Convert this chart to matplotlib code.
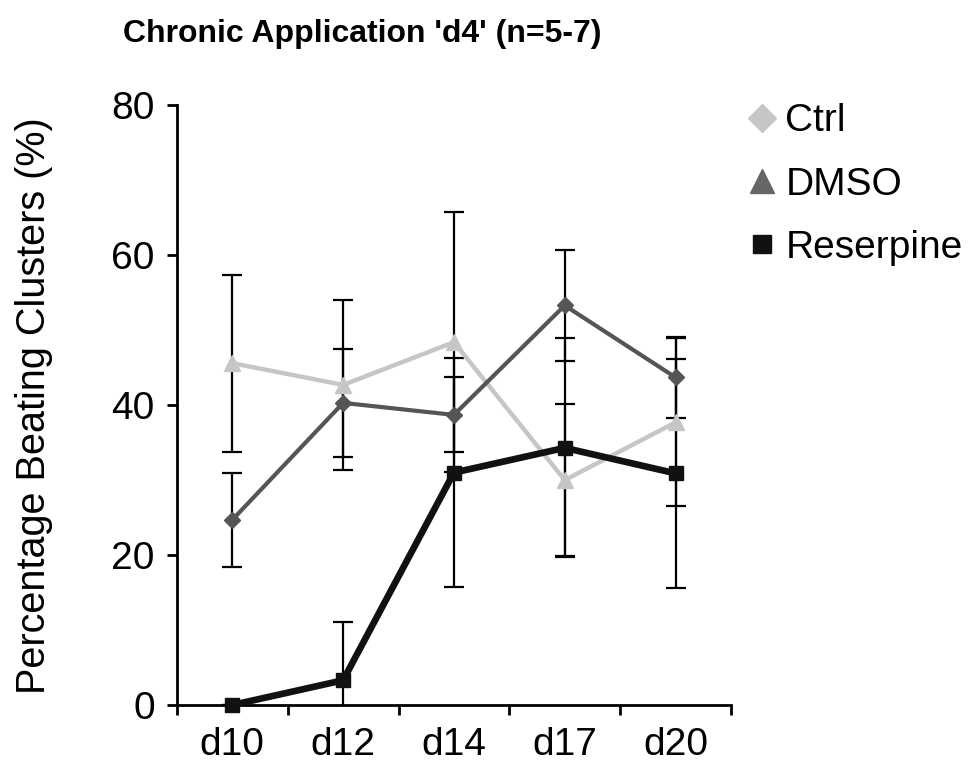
import matplotlib.pyplot as plt
from matplotlib.lines import Line2D
import numpy as np

plt.rcParams['font.family'] = ['Liberation Sans', 'DejaVu Sans']

# data
days = ['d10', 'd12', 'd14', 'd17', 'd20']
ctrl = [45.6, 42.7, 48.4, 30.0, 37.7]
ctrl_err = [11.8, 11.3, 17.3, 10.1, 11.2]
dmso = [24.7, 40.3, 38.7, 53.3, 43.7]
dmso_err = [6.3, 7.2, 5.0, 7.4, 5.4]
reserpine = [0.0, 3.3, 31.0, 34.3, 30.9]
reserpine_err = [0.0, 7.8, 15.3, 14.6, 15.3]

x = np.arange(len(days))

fig = plt.figure(figsize=(9.72, 7.63), dpi=100)
ax = fig.add_axes([0.182, 0.076, 0.570, 0.786])

# error bars (black, behind lines)
for vals, errs in [(ctrl, ctrl_err), (dmso, dmso_err), (reserpine, reserpine_err)]:
    ax.errorbar(x, vals, yerr=errs, fmt='none', ecolor='black',
                elinewidth=1.6, capsize=7, capthick=1.6, zorder=2)

ax.plot(x, ctrl, color='#c6c6c6', linewidth=3.2, marker='^', markersize=11, zorder=3)
ax.plot(x, dmso, color='#555555', linewidth=3, marker='D', markersize=8, zorder=4)
ax.plot(x, reserpine, color='#111111', linewidth=4.8, marker='s', markersize=10, zorder=5,
        clip_on=False)

ax.set_xlim(-0.5, len(days) - 0.5)
ax.set_ylim(0, 80)
ax.set_yticks([0, 20, 40, 60, 80])

# category labels at centers, tick marks at category boundaries
ax.set_xticks(x)
ax.set_xticklabels(days)
ax.tick_params(axis='x', which='major', length=0, pad=16, labelsize=28)
ax.set_xticks(np.arange(-0.5, len(days)), minor=True)
ax.tick_params(axis='x', which='minor', direction='out', length=7, width=2)
ax.tick_params(axis='y', direction='out', length=7, width=2, pad=9, labelsize=28)

for side in ['top', 'right']:
    ax.spines[side].set_visible(False)
for side in ['left', 'bottom']:
    ax.spines[side].set_linewidth(2)

ax.set_ylabel('Percentage Beating Clusters (%)', fontsize=28.5, labelpad=42)

fig.text(0.373, 0.955, "Chronic Application 'd4' (n=5-7)",
         ha='center', va='center', fontsize=23, fontweight='bold')

handles = [
    Line2D([], [], linestyle='none', marker='D', markersize=14, color='#c6c6c6'),
    Line2D([], [], linestyle='none', marker='^', markersize=17, color='#666666'),
    Line2D([], [], linestyle='none', marker='s', markersize=13, color='#111111'),
]
fig.legend(handles, ['Ctrl', 'DMSO', 'Reserpine'], loc='upper left',
           bbox_to_anchor=(0.752, 0.885), frameon=False, fontsize=28,
           handlelength=0.8, handletextpad=0.2, labelspacing=0.7,
           borderaxespad=0)

fig.savefig('out.png', dpi=100)
